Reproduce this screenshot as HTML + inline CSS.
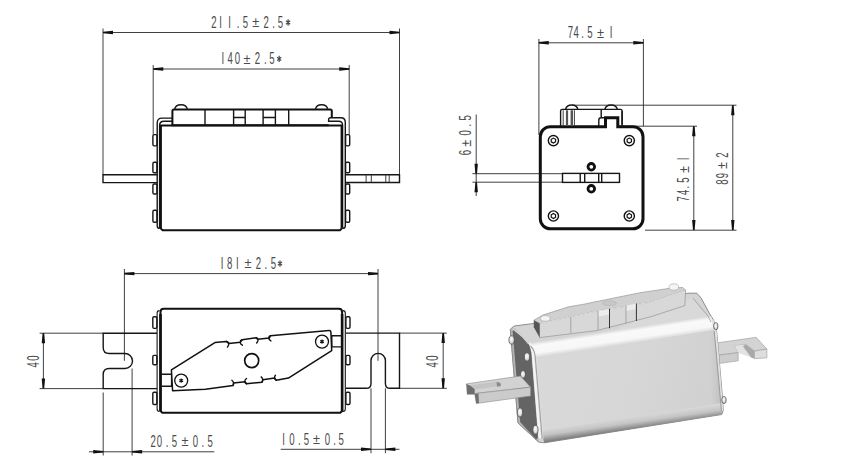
<!DOCTYPE html>
<html><head><meta charset="utf-8">
<style>
html,body{margin:0;padding:0;background:#fff;width:861px;height:468px;overflow:hidden}
svg{display:block}
text{font-family:"Liberation Sans",sans-serif;fill:#4a4a4a}
.t{stroke:#2a2a2a;stroke-width:0.9;fill:none}
.k{stroke:#111;stroke-width:2;fill:none}
.m{stroke:#161616;stroke-width:1.4;fill:none}
.a{fill:#111}
</style></head><body>
<svg width="861" height="468" viewBox="0 0 861 468">
<g id="dims">
  <!-- TL view dims -->
  <path class="t" d="M103,28.5V174.8 M399.5,28.5V174.8 M103,32.5H399.5 M153.2,65V134.5 M349.2,65V134.5 M153.3,69H349.2"/>
  <!-- TR view dims -->
  <path class="t" d="M538.9,39V135 M643.4,39V126 M538.9,42.8H643.4
    M476.2,114.5V196 M472.4,173.7H562.5 M472.4,182.2H562.5
    M622,126.2H697 M645,230.2H736.5 M693.8,126.2V230.2
    M572,105.2H736.5 M732.8,105.2V230.2"/>
  <!-- BL view dims -->
  <path class="t" d="M124.4,269V360.8 M378,269V360.8 M124.4,273.6H378
    M39.6,333.2H103 M39.6,388.6H103 M43.4,333.2V388.6
    M399.5,333.1H446.8 M399.5,388.3H446.8 M443.2,333.1V388.3
    M103.2,392.5V455.5 M132.1,368.5V455.5 M89,451.8H214.3
    M371,388.3V453.2 M385.4,388.3V453.2 M280.7,449.3H399.4"/>
  <path class="a" d="M103,31.7L113,30.8V34.2L103,33.3Z M399.5,31.7L389.5,30.8V34.2L399.5,33.3Z M153.3,68.2L163.3,67.3V70.7L153.3,69.8Z M349.2,68.2L339.2,67.3V70.7L349.2,69.8Z M538.8,42.0L548.8,41.099999999999994V44.5L538.8,43.599999999999994Z M643.3,42.0L633.3,41.099999999999994V44.5L643.3,43.599999999999994Z M475.4,173.7L474.5,163.7H477.9L477.0,173.7Z M475.4,182.2L474.5,192.2H477.9L477.0,182.2Z M693.0,126.2L692.0999999999999,136.2H695.5L694.5999999999999,126.2Z M693.0,230L692.0999999999999,220H695.5L694.5999999999999,230Z M732.0,105.2L731.0999999999999,115.2H734.5L733.5999999999999,105.2Z M732.0,230L731.0999999999999,220H734.5L733.5999999999999,230Z M124.4,272.8L134.4,271.90000000000003V275.3L124.4,274.40000000000003Z M378,272.8L368,271.90000000000003V275.3L378,274.40000000000003Z M42.6,333.2L41.699999999999996,343.2H45.1L44.199999999999996,333.2Z M42.6,388.6L41.699999999999996,378.6H45.1L44.199999999999996,388.6Z M442.4,333.1L441.5,343.1H444.9L444.0,333.1Z M442.4,388.3L441.5,378.3H444.9L444.0,388.3Z M103.2,451.0L93.2,450.1V453.5L103.2,452.6Z M132.1,451.0L142.1,450.1V453.5L132.1,452.6Z M371,448.5L361,447.6V451.0L371,450.1Z M385.4,448.5L395.4,447.6V451.0L385.4,450.1Z"/>
</g>
<g id="txt">
<text transform="translate(213.9,27.7) scale(0.6,1)" font-size="16" text-anchor="middle">2</text>
<text transform="translate(220.7,27.7) scale(0.6,1)" font-size="16" text-anchor="middle">I</text>
<text transform="translate(229.6,27.7) scale(0.6,1)" font-size="16" text-anchor="middle">I</text>
<text transform="translate(238.2,27.7) scale(0.6,1)" font-size="16" text-anchor="middle">.</text>
<text transform="translate(245.5,27.7) scale(0.6,1)" font-size="16" text-anchor="middle">5</text>
<text transform="translate(255.7,27.3) scale(0.85,1)" font-size="15" text-anchor="middle">±</text>
<text transform="translate(266.1,27.7) scale(0.6,1)" font-size="16" text-anchor="middle">2</text>
<text transform="translate(273.5,27.7) scale(0.6,1)" font-size="16" text-anchor="middle">.</text>
<text transform="translate(280.5,27.7) scale(0.6,1)" font-size="16" text-anchor="middle">5</text>
<path d="M288.1,19.30v6.4 M286.00,20.80l4.2,3.4 M286.00,24.20l4.2,-3.4" stroke="#4a4a4a" stroke-width="1.2" fill="none"/>
<text transform="translate(222.8,64.1) scale(0.6,1)" font-size="16" text-anchor="middle">I</text>
<text transform="translate(230.2,64.1) scale(0.6,1)" font-size="16" text-anchor="middle">4</text>
<text transform="translate(237.5,64.1) scale(0.6,1)" font-size="16" text-anchor="middle">0</text>
<text transform="translate(247.0,63.699999999999996) scale(0.85,1)" font-size="15" text-anchor="middle">±</text>
<text transform="translate(257.3,64.1) scale(0.6,1)" font-size="16" text-anchor="middle">2</text>
<text transform="translate(265.3,64.1) scale(0.6,1)" font-size="16" text-anchor="middle">.</text>
<text transform="translate(272.0,64.1) scale(0.6,1)" font-size="16" text-anchor="middle">5</text>
<path d="M279.2,55.70v6.4 M277.10,57.20l4.2,3.4 M277.10,60.60l4.2,-3.4" stroke="#4a4a4a" stroke-width="1.2" fill="none"/>
<text transform="translate(570.3,38.4) scale(0.6,1)" font-size="16" text-anchor="middle">7</text>
<text transform="translate(576.2,38.4) scale(0.6,1)" font-size="16" text-anchor="middle">4</text>
<text transform="translate(582.6,38.4) scale(0.6,1)" font-size="16" text-anchor="middle">.</text>
<text transform="translate(589.8,38.4) scale(0.6,1)" font-size="16" text-anchor="middle">5</text>
<text transform="translate(600.4,38.0) scale(0.85,1)" font-size="15" text-anchor="middle">±</text>
<text transform="translate(611.2,38.4) scale(0.6,1)" font-size="16" text-anchor="middle">I</text>
<text transform="translate(471.2,152.7) rotate(-90) scale(0.6,1)" font-size="16" text-anchor="middle">6</text>
<text transform="translate(470.8,143.2) rotate(-90) scale(0.85,1)" font-size="15" text-anchor="middle">±</text>
<text transform="translate(471.2,132.8) rotate(-90) scale(0.6,1)" font-size="16" text-anchor="middle">0</text>
<text transform="translate(471.2,125.1) rotate(-90) scale(0.6,1)" font-size="16" text-anchor="middle">.</text>
<text transform="translate(471.2,117.8) rotate(-90) scale(0.6,1)" font-size="16" text-anchor="middle">5</text>
<text transform="translate(689.0,198.8) rotate(-90) scale(0.6,1)" font-size="16" text-anchor="middle">7</text>
<text transform="translate(689.0,192.4) rotate(-90) scale(0.6,1)" font-size="16" text-anchor="middle">4</text>
<text transform="translate(689.0,187.2) rotate(-90) scale(0.6,1)" font-size="16" text-anchor="middle">.</text>
<text transform="translate(689.0,180.2) rotate(-90) scale(0.6,1)" font-size="16" text-anchor="middle">5</text>
<text transform="translate(688.6,169.6) rotate(-90) scale(0.85,1)" font-size="15" text-anchor="middle">±</text>
<text transform="translate(689.0,159.0) rotate(-90) scale(0.6,1)" font-size="16" text-anchor="middle">I</text>
<text transform="translate(727.6,182.1) rotate(-90) scale(0.6,1)" font-size="16" text-anchor="middle">8</text>
<text transform="translate(727.6,175.6) rotate(-90) scale(0.6,1)" font-size="16" text-anchor="middle">9</text>
<text transform="translate(727.2,165.5) rotate(-90) scale(0.85,1)" font-size="15" text-anchor="middle">±</text>
<text transform="translate(727.6,155.0) rotate(-90) scale(0.6,1)" font-size="16" text-anchor="middle">2</text>
<text transform="translate(222.0,268.8) scale(0.6,1)" font-size="16" text-anchor="middle">I</text>
<text transform="translate(229.6,268.8) scale(0.6,1)" font-size="16" text-anchor="middle">8</text>
<text transform="translate(237.4,268.8) scale(0.6,1)" font-size="16" text-anchor="middle">I</text>
<text transform="translate(247.9,268.40000000000003) scale(0.85,1)" font-size="15" text-anchor="middle">±</text>
<text transform="translate(258.3,268.8) scale(0.6,1)" font-size="16" text-anchor="middle">2</text>
<text transform="translate(265.9,268.8) scale(0.6,1)" font-size="16" text-anchor="middle">.</text>
<text transform="translate(273.5,268.8) scale(0.6,1)" font-size="16" text-anchor="middle">5</text>
<path d="M280.0,260.40v6.4 M277.90,261.90l4.2,3.4 M277.90,265.30l4.2,-3.4" stroke="#4a4a4a" stroke-width="1.2" fill="none"/>
<text transform="translate(38.5,364.8) rotate(-90) scale(0.6,1)" font-size="16" text-anchor="middle">4</text>
<text transform="translate(38.5,358.0) rotate(-90) scale(0.6,1)" font-size="16" text-anchor="middle">0</text>
<text transform="translate(437.8,364.8) rotate(-90) scale(0.6,1)" font-size="16" text-anchor="middle">4</text>
<text transform="translate(437.8,358.0) rotate(-90) scale(0.6,1)" font-size="16" text-anchor="middle">0</text>
<text transform="translate(153.1,446.7) scale(0.6,1)" font-size="16" text-anchor="middle">2</text>
<text transform="translate(159.4,446.7) scale(0.6,1)" font-size="16" text-anchor="middle">0</text>
<text transform="translate(167.2,446.7) scale(0.6,1)" font-size="16" text-anchor="middle">.</text>
<text transform="translate(174.4,446.7) scale(0.6,1)" font-size="16" text-anchor="middle">5</text>
<text transform="translate(185.1,446.3) scale(0.85,1)" font-size="15" text-anchor="middle">±</text>
<text transform="translate(195.5,446.7) scale(0.6,1)" font-size="16" text-anchor="middle">0</text>
<text transform="translate(202.9,446.7) scale(0.6,1)" font-size="16" text-anchor="middle">.</text>
<text transform="translate(210.1,446.7) scale(0.6,1)" font-size="16" text-anchor="middle">5</text>
<text transform="translate(283.7,444.6) scale(0.6,1)" font-size="16" text-anchor="middle">I</text>
<text transform="translate(291.8,444.6) scale(0.6,1)" font-size="16" text-anchor="middle">0</text>
<text transform="translate(299.4,444.6) scale(0.6,1)" font-size="16" text-anchor="middle">.</text>
<text transform="translate(306.4,444.6) scale(0.6,1)" font-size="16" text-anchor="middle">5</text>
<text transform="translate(316.6,444.20000000000005) scale(0.85,1)" font-size="15" text-anchor="middle">±</text>
<text transform="translate(327.3,444.6) scale(0.6,1)" font-size="16" text-anchor="middle">0</text>
<text transform="translate(334.7,444.6) scale(0.6,1)" font-size="16" text-anchor="middle">.</text>
<text transform="translate(341.2,444.6) scale(0.6,1)" font-size="16" text-anchor="middle">5</text>
</g>
<!-- ===== TOP-LEFT: side view ===== -->
<g id="tl">
  <!-- tabs -->
  <path class="m" d="M157.4,174.8H103V182.6H157.4 M345,174.8H399.5V182.5H345"/>
  <path class="t" d="M366.1,174.8v7.7 M371.3,174.8v7.7 M385.8,174.8v7.7 M389.2,174.8v7.7"/>
  <!-- brackets -->
  <path class="m" d="M159.6,228.4q-2.4,0 -2.4,-2.4V123q0,-4.9 4.9,-4.9H172 M159.6,228.5V125.5q0,-4.3 4.3,-4.3H172"/>
  <path fill="#fff" class="m" d="M342.8,228.4q2.5,0 2.5,-2.4V122.3q0,-4.5 -4.5,-4.5H330.6q-2,0 -2,2V121.3H338.6q4,0 4,4V228.5"/>
  <!-- body -->
  <path class="k" d="M160.9,228.6L162.6,230.3H339.9L341.6,228.6V125.4H160.9Z"/>
  <!-- top plate -->
  <path class="k" d="M331.8,117.8V111.1q0,-1.5 -1.5,-1.5H173.9q-1.5,0 -1.5,1.5V125.2H328.6"/>
  <path class="m" d="M174.6,109.6q0.8,-4.8 6.4,-4.8q5.6,0 6.4,4.8 M315.4,109.6q0.8,-4.8 6.2,-4.8q5.4,0 6.2,4.8"/>
  <path class="m" d="M205,109.6v15.6 M233.6,109.6v15.6 M245.2,109.6v15.6 M263.1,109.6v15.6 M275.4,109.6v15.6 M288.7,109.6v15.6 M233.6,117.5h11.6 M263.1,117.5h12.3"/>
  <!-- bolts -->
  <g class="m">
  <rect x="152.9" y="134.6" width="4.1" height="11.3" rx="1.3"/>
  <rect x="152.9" y="162.2" width="4.1" height="10.6" rx="1.3"/>
  <rect x="152.9" y="184" width="4.1" height="10" rx="1.3"/>
  <rect x="152.9" y="210.2" width="4.1" height="12" rx="1.3"/>
  <rect x="345.6" y="134.6" width="4.1" height="11.3" rx="1.3"/>
  <rect x="345.6" y="162.2" width="4.1" height="10.6" rx="1.3"/>
  <rect x="345.6" y="184" width="4.1" height="10" rx="1.3"/>
  <rect x="345.6" y="210.2" width="4.1" height="12" rx="1.3"/>
  </g>
</g>
<!-- ===== TOP-RIGHT: end view ===== -->
<g id="tr">
  <path fill="none" stroke="#111" stroke-width="3" stroke-linejoin="miter" d="M550.3,126.7H605.5V117.7H617.8V126.7H633A10,10 0 0 1 643,136.7V218.8A10,10 0 0 1 633,228.8H550.3A10,10 0 0 1 540.3,218.8V136.7A10,10 0 0 1 550.3,126.7Z"/>
  <!-- top component -->
  <path class="m" d="M560.6,126.5V111q0,-1.6 1.6,-1.6H620.5q1.6,0 1.6,1.6V124.5q0,2 -2,2H617.8"/>
  <path class="m" d="M565.5,109.4q1,-4.4 6.2,-4.4q5.2,0 6.2,4.4 M604.8,109.4q1,-4.4 6.3,-4.4q5.2,0 6.3,4.4"/>
  <path class="m" d="M601.2,109.5V117.7 M598.8,126.5V120q0,-2.2 2.2,-2.2H605.5 M622.1,111V124.5"/>
  <path class="t" d="M563.2,110.2v15.5 M574.4,110.2v15.5"/>
  <path fill="#555" d="M565.9,110.2h2.2v15.5h-2.2z M570.6,110.2h2.4v15.5h-2.4z"/>
  <!-- screws -->
  <g fill="none" stroke="#111" stroke-width="1.4">
    <circle cx="553.4" cy="140.6" r="5.1"/><path stroke-width="1.2" d="M555.57,141.85L553.40,143.10L551.23,141.85L551.23,139.35L553.40,138.10L555.57,139.35Z"/>
    <circle cx="629.3" cy="140.6" r="5.1"/><path stroke-width="1.2" d="M631.47,141.85L629.30,143.10L627.13,141.85L627.13,139.35L629.30,138.10L631.47,139.35Z"/>
    <circle cx="553.4" cy="216.0" r="5.1"/><path stroke-width="1.2" d="M555.57,217.25L553.40,218.50L551.23,217.25L551.23,214.75L553.40,213.50L555.57,214.75Z"/>
    <circle cx="629.3" cy="216.0" r="5.1"/><path stroke-width="1.2" d="M631.47,217.25L629.30,218.50L627.13,217.25L627.13,214.75L629.30,213.50L631.47,214.75Z"/>
  </g>
  <!-- center bar -->
  <rect class="m" x="562.5" y="173.4" width="57" height="9"/>
  <path class="m" d="M580.2,173.4v9 M584.7,173.4v9 M598.7,173.4v9 M601.7,173.4v9"/>
  <circle cx="591.3" cy="166.8" r="3.3" fill="none" stroke="#111" stroke-width="2.8"/>
  <circle cx="591.3" cy="188.8" r="3.3" fill="none" stroke="#111" stroke-width="2.8"/>
</g>
<!-- ===== BOTTOM-LEFT: top view ===== -->
<g id="bl">
  <!-- tabs -->
  <path class="m" d="M157,333.2H103.2V347.5q0,6 6,6H125a7.5,7.5 0 0 1 0,15H109.2q-6,0 -6,6V388.6H157"/>
  <path class="m" d="M346,333.1H399.5V388.3H390.3q-4.9,0 -4.9,-4.9V360.6a7.2,7.2 0 0 0 -14.4,0V383.4q0,4.9 -4.9,4.9H346"/>
  <!-- body -->
  <path class="k" d="M160.5,411L162.3,412.8H340.3L342.1,411V312q0,-3.3 -3.3,-3.3H163.8q-3.3,0 -3.3,3.3Z"/>
  <path stroke="#111" stroke-width="2.6" fill="none" d="M160.5,314V411 M342.1,314V411"/>
  <path stroke="#161616" stroke-width="1.1" fill="none" d="M159.5,411.4q-2.4,0 -2.4,-2.4V313q0,-2.4 2.4,-2.4 M343,411.4q2.3,0 2.3,-2.4V313q0,-2.4 -2.4,-2.4"/>
  <g class="m">
  <rect x="152.8" y="316.7" width="4.1" height="11.7" rx="1.3"/>
  <rect x="152.8" y="355.4" width="4.1" height="9.4" rx="1.3"/>
  <rect x="152.8" y="392.3" width="4.1" height="12.2" rx="1.3"/>
  <rect x="345.9" y="316.7" width="4.1" height="11.7" rx="1.3"/>
  <rect x="345.9" y="355.4" width="4.1" height="9.4" rx="1.3"/>
  <rect x="345.9" y="392.3" width="4.1" height="12.2" rx="1.3"/>
  </g>
  <!-- hinges -->
  <path class="m" d="M160.6,374.3H171.6V386.2H160.6 M342.7,335.8H331.8V346.9H342.7"/>
  <!-- lever -->
  <path fill="#fff" stroke="#111" stroke-width="1.5" stroke-linejoin="round" d="M171.4,369.8L214.9,342.6L226.3,341.4L228.7,343.4L240.5,342.2L242.1,339.8L256.3,337.7L257.6,339.3L269.3,338.1L270.4,335.7L329,330.4Q330.8,330.3 330.9,332L331.7,350.7L288.4,378.1L276.2,380.2L274.6,378.1L262.8,379.8L262,382.2L246.5,383.8L245,381.8L233.5,383L233.1,385.4L205.4,389.3L172.6,390.8Z"/>
  <path fill="none" stroke="#111" stroke-width="1.4" stroke-linecap="round" d="M226.3,341.4q3,0.5 2.4,3q-0.5,1.8 -1.2,2.7 M242.1,339.8q-2.2,0.6 -1.9,2.8q0.3,1.6 2.2,2.6 M256.3,337.7q2,0.7 1.6,3q-0.3,1.4 -1.2,2.3 M270.4,335.7q-2,0.7 -1.6,2.8q0.3,1.4 2.2,2.5
    M233.1,385.4q1,-1.5 0.4,-2.8q-0.6,-1.6 -1.6,-2.4 M246.5,383.8q-1.8,-0.8 -1.7,-2.6q0.1,-1.6 1.7,-2.7 M262,382.2q1,-1.4 0.8,-2.6q-0.3,-1.6 -1.6,-2.7 M276.2,380.2q-1.6,-0.8 -1.6,-2.4q0,-1.6 0.8,-2.5"/>
  <circle cx="251.7" cy="360.6" r="7" fill="none" stroke="#111" stroke-width="1.7"/>
  <g fill="none" stroke="#111" stroke-width="1.3">
    <circle cx="181.2" cy="380.6" r="6.5"/><circle cx="322" cy="341.6" r="6.5"/>
  </g>
  <g stroke="#111" stroke-width="1.1">
    <path d="M181.2,378.4v4.4 M179.3,379.5l3.8,2.2 M179.3,381.7l3.8,-2.2"/>
    <path d="M322,339.4v4.4 M320.1,340.5l3.8,2.2 M320.1,342.7l3.8,-2.2"/>
  </g>
</g>
<!-- ===== 3D render ===== -->
<g id="r3d">
  <defs>
    <linearGradient id="gFront" x1="0" y1="0" x2="1" y2="0.15">
      <stop offset="0" stop-color="#d9d9d9"/><stop offset="0.6" stop-color="#d6d6d6"/><stop offset="1" stop-color="#d1d1d1"/>
    </linearGradient>
    <linearGradient id="gBand" gradientUnits="userSpaceOnUse" x1="620" y1="329.6" x2="622.3" y2="344.8">
      <stop offset="0" stop-color="#dcdcdc"/><stop offset="0.22" stop-color="#f9f9f9"/><stop offset="0.7" stop-color="#f7f7f7"/><stop offset="1" stop-color="#d8d8d8"/>
    </linearGradient>
    <linearGradient id="gRight" x1="0" y1="0" x2="1" y2="0">
      <stop offset="0" stop-color="#d4d4d4" stop-opacity="0"/><stop offset="1" stop-color="#bdbdbd"/>
    </linearGradient>
    <linearGradient id="gBot" gradientUnits="userSpaceOnUse" x1="610" y1="420.3" x2="611.7" y2="432.3">
      <stop offset="0" stop-color="#d6d6d6"/><stop offset="0.45" stop-color="#c4c4c4"/><stop offset="1" stop-color="#7e7e7e"/>
    </linearGradient>
    <linearGradient id="gLeftEdge" x1="0" y1="0" x2="1" y2="0">
      <stop offset="0" stop-color="#f2f2f2"/><stop offset="1" stop-color="#d8d8d8"/>
    </linearGradient>
    <radialGradient id="gBolt" cx="0.45" cy="0.4" r="0.6">
      <stop offset="0" stop-color="#fafafa"/><stop offset="0.6" stop-color="#e2e2e2"/><stop offset="1" stop-color="#a8a8a8"/>
    </radialGradient>
  </defs>
  <!-- right tab (behind) -->
  <path fill="#d3d3d3" stroke="#9a9a9a" stroke-width="0.6" d="M712,343.6L756.2,337.3L766.9,349.2L754.5,351L745.9,344.5L734.8,345.8L738.2,352.7L712,356Z"/>
  <path fill="#a9a9a9" d="M745.9,344.5L754.5,351L754.5,358.7L751,357.4L742,346.5Z"/>
  <path fill="#dedede" stroke="#9a9a9a" stroke-width="0.6" d="M754.5,351L766.9,349.2L766.9,357.8L754.5,358.7Z"/>
  <path fill="#e2e2e2" d="M734.8,345.8L742,345L751,357.4L738.2,352.7Z"/>
  <path fill="#cdcdcd" stroke="#9a9a9a" stroke-width="0.6" d="M712,356L738.2,352.7L738.2,360.8L712,364.5Z"/>
  <!-- body silhouette base -->
  <path fill="#d4d4d4" stroke="#777" stroke-width="0.8" d="M510.3,329.2L514.1,326L533.3,323.5L687.9,293.2L696.9,293.2L701.1,298L709.4,313.3L713.6,320.3L716.5,330L722,392L723.3,410.3L721.8,414.5L544.3,442.8L538.9,442.2L518,423Z"/>
  <!-- top face area right of lever -->
  <path fill="#d9d9d9" d="M685,300L692.8,298L708,316.1L710.8,321.7L600,336Z"/>
  <!-- band -->
  <path fill="url(#gBand)" d="M526,343.5L711,316L715,330L536,358.5Z"/>
  <!-- front face -->
  <path fill="url(#gFront)" d="M536,358.5L715,330L721.5,409L540.5,438Z"/>
  <path fill="url(#gRight)" d="M706,331.5L715,330L721.5,409L713,410.5Z"/>
  <!-- bottom band -->
  <path fill="url(#gBot)" d="M540.5,431L721.5,403L721.8,414.5L544.3,442.8Z"/>
  <!-- right end strip -->
  <path fill="#e2e2e2" d="M711,318L713.6,320.3L716.5,330L718.4,350L723.3,410.3L721.5,411L716,350L714.2,331Z"/>
  <path fill="none" stroke="#8a8a8a" stroke-width="0.8" d="M714.2,331L716,350L721.5,411"/>
  <path fill="none" stroke="#9a9a9a" stroke-width="0.8" d="M692.8,298L708,316.1L711,322"/>
  <!-- left end cap -->
  <path fill="#b4b4b4" d="M510.6,329.5L514,327.5L522.5,336.5L529.5,344.6L531.5,352L538.5,438L538.6,442L518.2,423.2Z"/>
  <path fill="#646464" d="M512.6,331L514.6,329.6L522.5,337.2L529.2,345L531.3,352.5L538,437.5L536,439.5L520.2,422Z"/>
  <path fill="none" stroke="#d4d4d4" stroke-width="1.5" d="M512.8,328.6L523,337L528.5,343.5"/>
  <path fill="none" stroke="#888" stroke-width="0.7" d="M510.3,329.2L518,423L538.9,442.2"/>
  <path fill="#f4f4f4" d="M528.5,343.5Q531.3,346.5 531.6,352L538.5,438L541.2,438.5L534.3,355Q533.6,347 530,342.6Z"/>
  <path fill="#e2e2e2" d="M534.3,355L541.2,438.5L543.5,439L536.5,358Z"/>
  <path fill="none" stroke="#a0a0a0" stroke-width="1.1" d="M542.2,438.8L535.2,356.5Q534.6,350 530.5,346"/>
  <!-- bolts -->
  <g fill="url(#gBolt)" stroke="#4a4a4a" stroke-width="0.7">
    <ellipse cx="511.6" cy="340" rx="2.7" ry="4.2"/>
    <ellipse cx="527" cy="357" rx="2.7" ry="4.2"/>
    <ellipse cx="523" cy="374.4" rx="2.5" ry="3.8"/>
    <ellipse cx="520" cy="412.5" rx="2.6" ry="4.6"/>
    <ellipse cx="535.5" cy="429.8" rx="2.6" ry="4.4"/>
    <ellipse cx="715.8" cy="326.2" rx="2.2" ry="3.6"/>
    <ellipse cx="724" cy="400" rx="2.2" ry="3.6"/>
  </g>
  <!-- left tab -->
  <path fill="#d2d2d2" stroke="#8a8a8a" stroke-width="0.6" d="M466.2,383.9L520.4,376L530.6,387.2L474.7,393.6Z"/>
  <path fill="#cbcbcb" stroke="#8a8a8a" stroke-width="0.6" d="M474.7,393.6L530.6,387.2L530.6,396L476.3,403.5Z"/>
  <path fill="#6e6e6e" d="M466.2,383.9L474.7,387.5L474.7,394.5L467,394.5Z"/>
  <path fill="#707070" d="M474.7,394L478.5,393.6L479,403L476.3,403.5Z"/>
  <path fill="#c4c4c4" d="M470,385.2L498,381.6Q502,382 500.5,386L475,389.5Z"/>
  <path fill="#8a8a8a" d="M496.5,382.2Q502,382 500.5,386.2L497,386.6Z"/>
  <!-- lever -->
  <path fill="#d0d0d0" stroke="#8a8a8a" stroke-width="0.6" d="M533.8,320.3L542.8,315.1L568.5,306.8L583.8,304.2L599.2,301L640,292.7L670.3,288.2L682.8,287.5L685.6,290.3L649.4,302.5L597,311L539.6,323.5Z"/>
  <path fill="#d8d8d8" stroke="#8a8a8a" stroke-width="0.6" d="M539.6,323.5L597,311L649.4,302.5L685.6,290.3L684.9,305.6L650.8,316.7L597,330.5L539.6,337.6Z"/>
  <path fill="#555" d="M533.8,320.3L539.6,323.5L539.6,337.6L533.8,327.3Z"/>
  <path stroke="#eeeeee" stroke-width="0.8" fill="none" d="M540,323.4L597,311L649.4,302.5L685,290.6"/>
  <path fill="#ececec" d="M598,311L609.5,309L609.5,314.5L598,316.5Z M626,305.5L636.4,303.6L636.4,309L626,311Z"/>
  <path stroke="#9a9a9a" stroke-width="0.8" fill="none" d="M570.8,317v16 M598,311v19 M626,305.5v18"/>
  <path stroke="#333" stroke-width="1" fill="none" d="M609.5,308.8v19.5 M636.4,303.5v17.5"/>
  <ellipse cx="609.5" cy="303.2" rx="7" ry="2.3" fill="#c8c8c8" stroke="#aaa" stroke-width="0.5"/>
  <ellipse cx="545.4" cy="318.4" rx="4.8" ry="2.8" fill="#f4f4f4" stroke="#999" stroke-width="0.5"/>
  <ellipse cx="673.8" cy="287" rx="4.8" ry="3.2" fill="#f4f4f4" stroke="#999" stroke-width="0.5"/>
</g>
</svg>
</body></html>
